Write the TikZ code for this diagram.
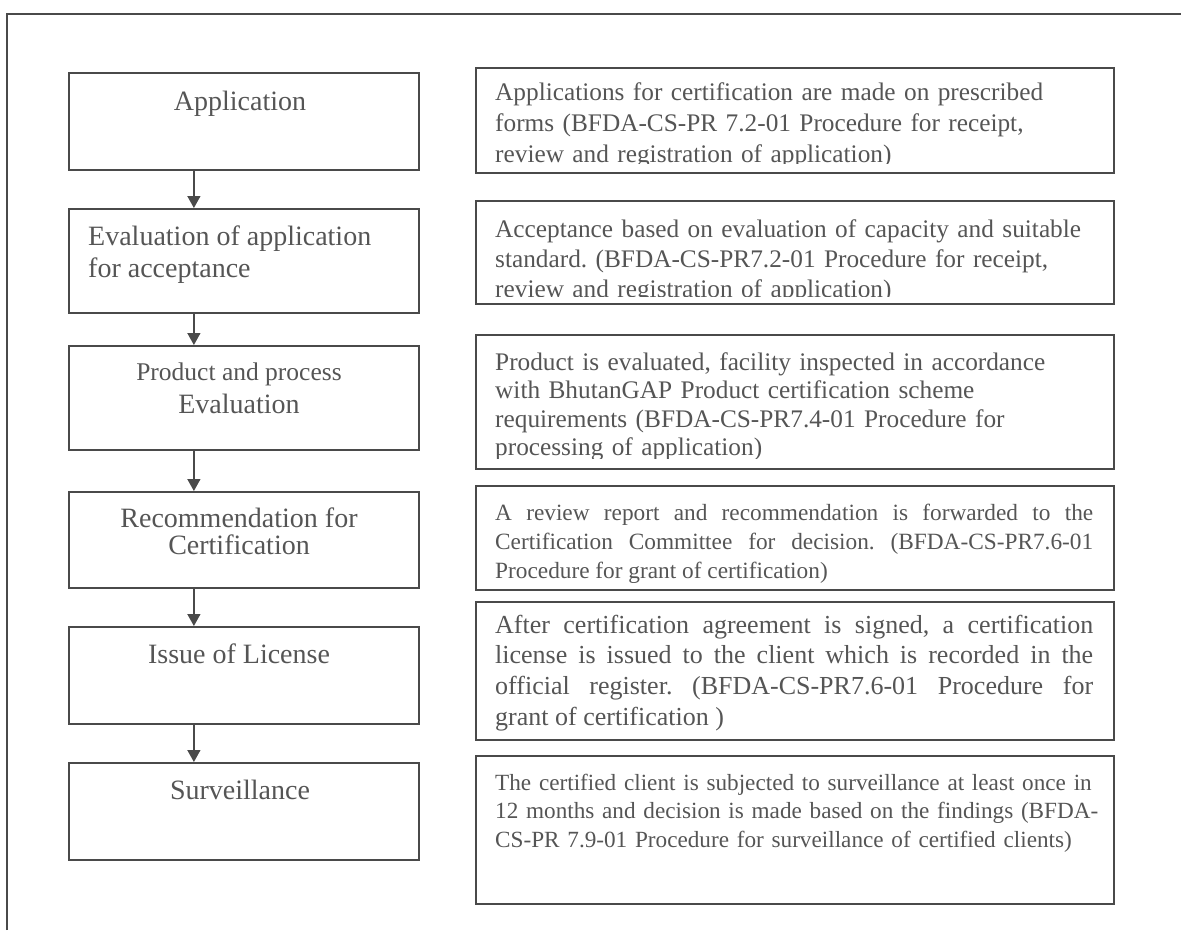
\documentclass[tikz,border=0pt]{standalone}
\usepackage{fontspec}
\setmainfont{Liberation Serif}
\usetikzlibrary{arrows.meta}
\definecolor{ink}{HTML}{555555}
\definecolor{edge}{HTML}{4A4A4A}
\frenchspacing
\begin{document}
\begin{tikzpicture}[x=1pt,y=-1pt,
  lbox/.style={draw=edge, line width=1.8pt, inner sep=0pt, anchor=north west, minimum width=350pt},
  rbox/.style={draw=edge, line width=1.8pt, inner sep=0pt, anchor=north west, minimum width=638pt},
  ltext/.style={text=ink, inner sep=0pt, anchor=base, font=\fontsize{28}{31}\selectfont},
  rtext/.style={text=ink, inner sep=0pt, anchor=base west, text width=620pt, align=left},
  jtext/.style={text=ink, inner sep=0pt, anchor=base west, text width=598pt, align=justify},
  flow/.style={draw=edge, line width=1.4pt, -{Triangle[width=13pt,length=12pt]}},
]
\useasboundingbox (0,0) rectangle (1181,930);
\draw[edge, line width=1.3pt] (7,930) -- (7,14) -- (1181,14);

% left column boxes
\node[lbox, minimum height=97pt]  (L1) at (68,72) {};
\node[lbox, minimum height=104pt] (L2) at (68,208) {};
\node[lbox, minimum height=104pt] (L3) at (68,345) {};
\node[lbox, minimum height=96pt]  (L4) at (68,491) {};
\node[lbox, minimum height=97pt]  (L5) at (68,626) {};
\node[lbox, minimum height=97pt]  (L6) at (68,762) {};

% left texts
\node[ltext] (l1a) at (240,110) {Application};
\node[ltext, anchor=base west] (l2a) at (88,245) {Evaluation of application};
\node[ltext, anchor=base west] (l2b) at (88,277) {for acceptance};
\node[ltext, font=\fontsize{25.5}{30}\selectfont] (l3a) at (239,380) {Product and process};
\node[ltext] (l3b) at (239,413) {Evaluation};
\node[ltext, text height=19pt, text depth=3pt] (l4a) at (239,527) {Recommendation for};
\node[ltext, text height=19pt, text depth=3pt] (l4b) at (239,554) {Certification};
\node[ltext] (l5a) at (239,663) {Issue of License};
\node[ltext] (l6a) at (240,799) {Surveillance};

% arrows
\foreach \a/\b in {L1/L2,L2/L3,L3/L4,L4/L5,L5/L6}
  \draw[flow] ([xshift=-50pt]\a.south) -- ([xshift=-50pt]\b.north);

% right column boxes
\node[rbox, minimum height=105pt] (R1) at (475,67) {};
\node[rbox, minimum height=103pt] (R2) at (475,200) {};
\node[rbox, minimum height=134pt] (R3) at (475,334) {};
\node[rbox, minimum height=104pt] (R4) at (475,485) {};
\node[rbox, minimum height=138pt] (R5) at (475,601) {};
\node[rbox, minimum height=148pt] (R6) at (475,755) {};

% right texts
\begin{scope}
\clip (476,68) rectangle (1112,163);
\node[rtext, font=\fontsize{25.3}{31}\selectfont] (r1) at (495,100)
  {Applications for certification are made on prescribed\\
   forms (BFDA-CS-PR 7.2-01 Procedure for receipt,\\
   review and registration of application)};
\end{scope}
\begin{scope}
\clip (476,201) rectangle (1112,296);
\node[rtext, font=\fontsize{25.3}{30}\selectfont] (r2) at (495,237)
  {Acceptance based on evaluation of capacity and suitable\\
   standard. (BFDA-CS-PR7.2-01 Procedure for receipt,\\
   review and registration of application)};
\end{scope}
\begin{scope}
\clip (476,335) rectangle (1112,458);
\node[rtext, font=\fontsize{25.3}{28.5}\selectfont] (r3) at (495,370)
  {Product is evaluated, facility inspected in accordance\\
   with BhutanGAP Product certification scheme\\
   requirements (BFDA-CS-PR7.4-01 Procedure for\\
   processing of application)};
\end{scope}
\begin{scope}
\clip (476,486) rectangle (1112,582);
\node[jtext, font=\fontsize{23.3}{29}\selectfont] (r4) at (495,520)
  {A review report and recommendation is forwarded to the\linebreak
   Certification Committee for decision. (BFDA-CS-PR7.6-01\linebreak
   Procedure for grant of certification)};
\end{scope}
\node[jtext, font=\fontsize{26}{30.7}\selectfont] (r5) at (495,633)
  {After certification agreement is signed, a certification\linebreak
   license is issued to the client which is recorded in the\linebreak
   official register. (BFDA-CS-PR7.6-01 Procedure for\linebreak
   grant of certification )};
\node[rtext, font=\fontsize{23.2}{28.5}\selectfont] (r6) at (495,790)
  {The certified client is subjected to surveillance at least once in\\
   12 months and decision is made based on the findings (BFDA-\\
   CS-PR 7.9-01 Procedure for surveillance of certified clients)};
\end{tikzpicture}
\end{document}
